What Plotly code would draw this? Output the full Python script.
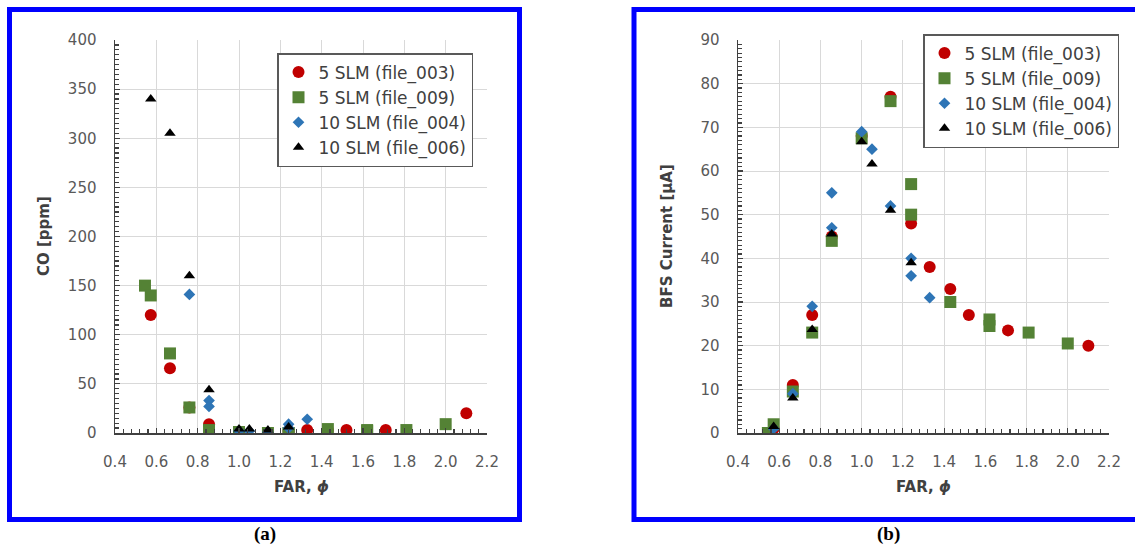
import plotly.graph_objects as go

# ---------------- data ----------------
names = ["5 SLM (file_003)", "5 SLM (file_009)", "10 SLM (file_004)", "10 SLM (file_006)"]

far_003 = [0.573, 0.666, 0.76, 0.855, 1.0, 1.14, 1.24, 1.33, 1.43, 1.52, 1.71, 2.1]
co_003 = [120, 66, 26, 9, 1, 0, 2, 3, 3, 3, 3, 20]
bfs_003 = [1, 11, 27, 45, 68, 77, 48, 38, 33, 27, 23.5, 20]

far_009 = [0.545, 0.573, 0.666, 0.76, 0.855, 1.0, 1.14, 1.24, 1.24, 1.43, 1.62, 1.62, 1.81, 2.0]
co_009 = [150, 140, 81, 26, 3, 1, 0, 0, 0, 4, 3, 2, 3, 9]
bfs_009 = [0, 2, 9.5, 23, 44, 67.5, 76, 57, 50, 30, 26, 24.5, 23, 20.5]

far_004 = [0.573, 0.666, 0.76, 0.855, 0.855, 1.0, 1.05, 1.14, 1.24, 1.24, 1.33]
co_004 = [None, None, 141, 33, 27, 2, 2, 1, 9, 5, 14]
bfs_004 = [1, 9, 29, 55, 47, 69, 65, 52, 40, 36, 31]

far_006 = [0.573, 0.666, 0.76, 0.855, 1.0, 1.05, 1.14, 1.24]
co_006 = [340, 305, 160, 44, 4, 4, 3, 6]
bfs_006 = [1.5, 8, 23.7, 45.6, 66.7, 61.6, 51, 39]

x_ticks = [0.4, 0.6, 0.8, 1.0, 1.2, 1.4, 1.6, 1.8, 2.0, 2.2]

# ---------------- styles ----------------
W, H = 1135, 546
colors = ["#C00000", "#548235", "#2E75B6", "#000000"]
symbols = ["circle", "square", "diamond", "triangle-up"]
sizes = [12, 12, 9, 10]

series = [
    (far_003, co_003, bfs_003),
    (far_009, co_009, bfs_009),
    (far_004, co_004, bfs_004),
    (far_006, co_006, bfs_006),
]

def px(x):
    return x / W

def py(y):
    return 1 - y / H

fig = go.Figure()

for i, (fx, co, bfs) in enumerate(series):
    fig.add_trace(go.Scatter(
        x=fx, y=co, mode="markers", name=names[i],
        marker=dict(color=colors[i], symbol=symbols[i], size=sizes[i], line=dict(width=0)),
        xaxis="x", yaxis="y", legend="legend"))
for i, (fx, co, bfs) in enumerate(series):
    fig.add_trace(go.Scatter(
        x=fx, y=bfs, mode="markers", name=names[i],
        marker=dict(color=colors[i], symbol=symbols[i], size=sizes[i], line=dict(width=0)),
        xaxis="x2", yaxis="y2", legend="legend2"))

AX = "#404040"
FONT = "DejaVu Sans, sans-serif"
TICKFONT = dict(family=FONT, size=15, color="#595959")
dom_y = [py(433), py(40)]
dom_xa = [px(115), px(487)]
dom_xb = [px(738), px(1109)]

def xaxis_main(domain, anchor):
    return dict(domain=domain, anchor=anchor, range=[0.4, 2.2], tickvals=x_ticks,
                ticktext=[f"{v:.1f}" for v in x_ticks],
                showgrid=True, gridcolor="#d9d9d9", gridwidth=1,
                showline=True, linecolor=AX, linewidth=1.5,
                ticks="inside", ticklen=5, tickcolor=AX, tickwidth=1.2,
                minor=dict(dtick=0.04, ticks="inside", ticklen=4, tickcolor=AX, showgrid=False),
                tickfont=TICKFONT, ticklabelstandoff=14, zeroline=False, fixedrange=True)

def yaxis_main(domain, anchor, rng, dtick, mdtick):
    return dict(domain=domain, anchor=anchor, range=rng, dtick=dtick, tick0=0,
                showgrid=True, gridcolor="#d9d9d9", gridwidth=1,
                showline=True, linecolor=AX, linewidth=1.5,
                ticks="inside", ticklen=5, tickcolor=AX, tickwidth=1.2,
                minor=dict(dtick=mdtick, ticks="inside", ticklen=4, tickcolor=AX, showgrid=False),
                tickfont=TICKFONT, ticklabelstandoff=14, zeroline=False, fixedrange=True)

def x_overlay(domain, anchor, over):
    return dict(domain=domain, anchor=anchor, overlaying=over, matches=over, range=[0.4, 2.2],
                tickvals=x_ticks, showticklabels=False, showgrid=False, showline=False,
                ticks="outside", ticklen=5, tickcolor=AX, tickwidth=1.2, zeroline=False)

def y_overlay(domain, anchor, over, rng, dtick):
    return dict(domain=domain, anchor=anchor, overlaying=over, matches=over, range=rng,
                dtick=dtick, tick0=0, showticklabels=False, showgrid=False, showline=False,
                ticks="outside", ticklen=5, tickcolor=AX, tickwidth=1.2, zeroline=False)

LEGFONT = dict(family=FONT, size=17, color="#404040")
fig.update_layout(
    width=W, height=H, margin=dict(l=0, r=0, t=0, b=0, autoexpand=False),
    paper_bgcolor="white", plot_bgcolor="white",
    xaxis=xaxis_main(dom_xa, "y"),
    yaxis=yaxis_main(dom_y, "x", [0, 400], 50, 5),
    xaxis2=xaxis_main(dom_xb, "y2"),
    yaxis2=yaxis_main(dom_y, "x2", [0, 90], 10, 1),
    xaxis3=x_overlay(dom_xa, "y", "x"),
    yaxis3=y_overlay(dom_y, "x", "y", [0, 400], 50),
    xaxis4=x_overlay(dom_xb, "y2", "x2"),
    yaxis4=y_overlay(dom_y, "x2", "y2", [0, 90], 10),
    legend=dict(x=px(277), y=py(53), xanchor="left", yanchor="top",
                bgcolor="white", bordercolor="#595959", borderwidth=1.5,
                font=LEGFONT, itemwidth=30, tracegroupgap=0),
    legend2=dict(x=px(923), y=py(34), xanchor="left", yanchor="top",
                 bgcolor="white", bordercolor="#595959", borderwidth=1.5,
                 font=LEGFONT, itemwidth=30, tracegroupgap=0),
    showlegend=True,
)

TITLEFONT = dict(family=FONT, size=15, color="#404040")
ann = [
    dict(x=px(44), y=py(236), text="<b>CO [ppm]</b>", textangle=-90, font=TITLEFONT),
    dict(x=px(301), y=py(487), text="<b>FAR, <i>ϕ</i></b>", font=TITLEFONT),
    dict(x=px(667), y=py(236), text="<b>BFS Current [µA]</b>", textangle=-90, font=TITLEFONT),
    dict(x=px(923), y=py(487), text="<b>FAR, <i>ϕ</i></b>", font=TITLEFONT),
    dict(x=px(265), y=py(534), text="<b>(a)</b>",
         font=dict(family="Liberation Serif, Times New Roman, serif", size=19, color="black")),
    dict(x=px(888), y=py(534), text="<b>(b)</b>",
         font=dict(family="Liberation Serif, Times New Roman, serif", size=19, color="black")),
]
for a in ann:
    a.update(xref="paper", yref="paper", showarrow=False, xanchor="center", yanchor="middle")
fig.update_layout(annotations=ann)

fig.update_layout(shapes=[
    dict(type="rect", xref="paper", yref="paper", x0=px(9.5), x1=px(519.5), y0=py(519.5), y1=py(9.5),
         line=dict(color="#0000FF", width=5)),
    dict(type="rect", xref="paper", yref="paper", x0=px(634), x1=px(1145), y0=py(519.5), y1=py(9.5),
         line=dict(color="#0000FF", width=5)),
])

fig.write_html("out.html", config={"displayModeBar": False, "staticPlot": True},
               post_script="document.body.style.margin='0';document.body.style.overflow='hidden';")
